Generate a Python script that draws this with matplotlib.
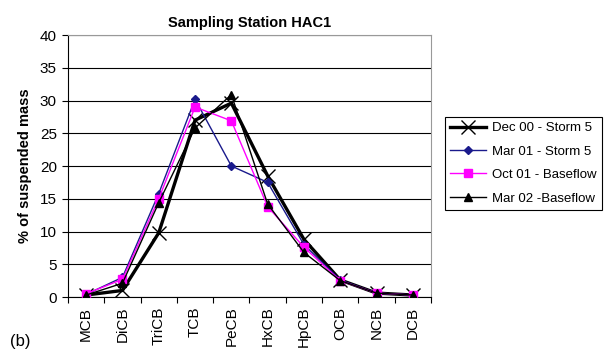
import matplotlib
matplotlib.use("Agg")
import matplotlib.pyplot as plt
import numpy as np

plt.rcParams['font.family'] = ['Liberation Sans', 'DejaVu Sans']

categories = ["MCB", "DiCB", "TriCB", "TCB", "PeCB", "HxCB", "HpCB", "OCB", "NCB", "DCB"]
dec00 = [0.3, 1.0, 9.8, 27.0, 29.6, 18.5, 8.8, 2.6, 0.6, 0.3]
mar01 = [0.4, 3.0, 15.8, 30.2, 20.0, 17.5, 8.0, 2.6, 0.6, 0.3]
oct01 = [0.5, 2.7, 15.0, 29.0, 26.9, 13.8, 7.6, 2.5, 0.6, 0.3]
mar02 = [0.3, 2.1, 14.4, 25.8, 30.9, 14.2, 6.8, 2.5, 0.6, 0.3]
yticks = [0, 5, 10, 15, 20, 25, 30, 35, 40]

fig = plt.figure(figsize=(6.10, 3.59), dpi=100)
ax = fig.add_axes([0.1115, 0.1727, 0.595, 0.7298])

x = np.arange(len(categories))
ax.plot(x, dec00, color='black', lw=2.4, marker='x', ms=10, mew=1.0, label='Dec 00 - Storm 5', zorder=3)
ax.plot(x, mar01, color='#1a1a8c', lw=1.0, marker='D', ms=4.5, label='Mar 01 - Storm 5', zorder=4)
ax.plot(x, oct01, color='#ff00ff', lw=1.0, marker='s', ms=5.5, label='Oct 01 - Baseflow', zorder=5)
ax.plot(x, mar02, color='black', lw=1.0, marker='^', ms=6, label='Mar 02 -Baseflow', zorder=6)

ax.set_xlim(-0.5, len(categories) - 0.5)
ax.set_ylim(0, 40)
ax.set_yticks(yticks)
ax.set_yticklabels([str(t) for t in yticks], fontsize=11)
ax.set_xticks(x)
ax.set_xticklabels(categories, rotation=90, fontsize=11)
ax.set_xticks(np.arange(-0.5, len(categories) + 0.5, 1), minor=True)
ax.tick_params(axis='x', which='major', length=0, pad=7)
ax.tick_params(axis='x', which='minor', length=4, width=0.8, direction='out')
ax.tick_params(axis='y', length=4, width=0.8, direction='out', pad=4)

ax.yaxis.grid(True, color='black', lw=0.8)
ax.set_axisbelow(True)
for s in ['top', 'right']:
    ax.spines[s].set_color('#999999')
for s in ['left', 'bottom']:
    ax.spines[s].set_color('black')

ax.set_ylabel('% of suspended mass', fontsize=10.5, fontweight='bold', labelpad=6)
ax.set_title('Sampling Station HAC1', fontsize=10.5, fontweight='bold', pad=6)

leg = fig.legend(loc='upper left', bbox_to_anchor=(0.729, 0.675), fontsize=9.5,
                 frameon=True, fancybox=False, edgecolor='black', framealpha=1,
                 handlelength=2.7, labelspacing=0.85, borderpad=0.4, borderaxespad=0,
                 handletextpad=0.5)
leg.get_frame().set_linewidth(0.8)

fig.text(0.016, 0.035, '(b)', fontsize=12)

fig.savefig('out.png', dpi=100)
